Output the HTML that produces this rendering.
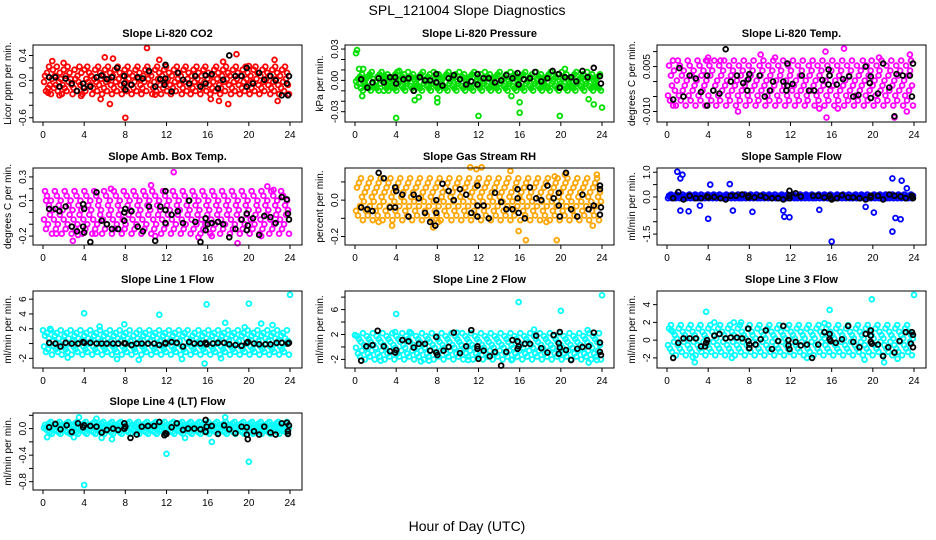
<!DOCTYPE html>
<html><head><meta charset="utf-8"><style>
body{margin:0;background:#fff;}
svg{display:block;font-family:"Liberation Sans",sans-serif;}
</style></head><body>
<svg id="chart" width="936" height="540" xmlns="http://www.w3.org/2000/svg">
<rect width="936" height="540" fill="#fff"/>
<text x="467" y="15" font-size="14" text-anchor="middle">SPL_121004  Slope Diagnostics</text>
<text x="467" y="531" font-size="14" text-anchor="middle">Hour of Day (UTC)</text>
</svg>
<script>
// ---- data ----
const xTicks = [0, 4, 8, 12, 16, 20, 24];
const titles = ["Slope Li-820 CO2","Slope Li-820 Pressure","Slope Li-820 Temp.","Slope Amb. Box Temp.","Slope Gas Stream RH","Slope Sample Flow","Slope Line 1 Flow","Slope Line 2 Flow","Slope Line 3 Flow","Slope Line 4 (LT) Flow"];
const yTitles = ["Licor ppm per min.","kPa per min.","degrees C per min.","degrees C per min.","percent per min.","ml/min per min.","ml/min per min.","ml/min per min.","ml/min per min.","ml/min per min."];
const colors = ["#ff0000","#00e000","#ff00ff","#ff00ff","#ffa500","#0000ff","#00ffff","#00ffff","#00ffff","#00ffff"];
const yTickVals = [[0.4,0.2,0,-0.2,-0.4,-0.6],[0.03,0.02,0.01,0,-0.01,-0.02,-0.03],[0.01,0.005,0,-0.005,-0.01],[0.3,0.2,0.1,0,-0.1,-0.2],[0.1,0,-0.1,-0.2],[1,0.5,0,-0.5,-1,-1.5],[6,4,2,0,-2],[8,6,4,2,0,-2],[4,2,0,-2],[0.2,0,-0.2,-0.4,-0.6,-0.8]];
const yTickLabels = [["0.4","","0.0","","","-0.6"],["0.03","","","0.00","","","-0.03"],["","0.005","","","-0.010"],["0.3","","0.1","","","-0.2"],["","0.0","","-0.2"],["1.0","","0.0","","","-1.5"],["6","4","2","","-2"],["","6","","2","","-2"],["4","2","0","-2"],["","0.0","","-0.4","","-0.8"]];
const yDomains = [[-0.62,0.52],[-0.037,0.031],[-0.0125,0.0112],[-0.25,0.35],[-0.23,0.16],[-1.82,1.05],[-2.9,6.7],[-2.9,8.5],[-2.8,5.2],[-0.88,0.19]];
const bandLo = [-0.22,-0.012,-0.008,-0.18,-0.11,-0.25,-1.5,-2.0,-1.7,-0.1];
const bandHi = [0.22,0.008,0.007,0.18,0.12,0.2,1.8,2.2,1.7,0.1];
const bands = [
"4617293058263914750382619475302851649370281594736025841937506284195730628419573062841957306248195730264819573602481957306284915730628419573602849157306284195730628491573062481957302684195736028419573062841957306248195730628419573602841957306284195730",
"5364728154637281946352718495637281546372819456372815496372815463728194563728154963728154637281945637281549637281546372819456372815496372815463728194563728154963728154637281945637281549637281546372819456372815496372815463728194563728154963728154637281",
"2816497305928163740592816374059281637405928617394052816379405281637940528163794052816379405218637940528163794052816739405281673940528163794052186379405281637940528163794052816379405281637940528163749052816379405281673940528163794052816379405281637940",
"3918264705391826470539182647053918264750391826475039182674503918264750391826475039128647503918264750391826475093182647503918264750391826475039182647503918624750391826475039182647503918264750391826475039182647503918246750391826475039182647503918264750",
"2718395046271839504627183950462718395064271839506427183950642718395064271839506427183905642718395064271839506427183950642718395064271839506427183950642718395064217839506427183950642718395064271839506427183950642718395064271839506427183950642718395064",
"4657465647564657456465746564756465745646574656475646574564657465647564657456465746564756465745646574656475646574564657465647564657456465746564756465745646574656475646574564657465647564657456465746564756465745646574656475646574564657465647564657456465746",
"3718264905372816490537281649053728164950372816495037281649503728164950372816495037281649503721864950372816495037281649503728164950372816495037281694503728164950372816495037281649503728164950372816495037281649503728164950372816495037281649503728164950",
"4827163950482716395048271639504827163950482716395048271693504827163950482716395048271639504827163950482716359048271639504827163950482716395048271639504827163950482716395048271639504827163950482716395048271639504827163950482716395048271639504827163950",
"3829174605382917460538291746053829174605382917460538291746053829174605382917460538291764053829174605382917460538291746053829174605382917460538291746053829174605382917460538291746053829174605382917460538291746053829174605382917460538291746053829174605",
"5746382915746382915746382951746382915746382915746382915746382915746382915746382915746382915746382915746382915746382915746382915746382915746382915746382915746382915746382915746382915746382915746382915746382915746382915746382915746382915746382915746382915"];
const outliers = [
[[10.1,0.52],[8,-0.6],[6.5,-0.38],[18.8,0.42],[6,0.37],[6.8,0.35],[11.3,0.33],[0.9,0.31],[22.5,0.33],[17.5,0.3],[22.8,-0.33],[17.1,-0.33],[18,-0.38],[16.3,-0.3],[5.6,-0.3],[3.7,-0.25],[10.9,-0.23],[20,0.23],[0.5,-0.2],[1.6,-0.24],[2,0.28]],
[[0.2,0.029],[0.1,0.026],[4,-0.036],[12,-0.034],[16,-0.031],[19.9,-0.034],[24,-0.026],[16,-0.021],[8,-0.017],[8,-0.021],[0.4,0.011],[0.8,0.011],[5.8,-0.019],[6.2,-0.016],[20.4,0.011],[23.2,-0.023],[22.7,-0.018],[0.7,-0.015],[15.2,-0.015],[2.8,-0.010],[4.3,0.009]],
[[17.2,0.011],[15.4,0.01],[22.1,-0.012],[15.5,-0.012],[6.9,-0.01],[23.3,-0.01],[9.1,0.009],[23.6,0.009],[16.6,-0.009],[14.8,-0.009],[0.6,-0.008],[5.2,0.007],[4,0.008],[20.6,0.008],[10.5,0.008],[3.8,0.007]],
[[12.7,0.34],[18.9,-0.26],[2.9,-0.24],[15.1,-0.21],[10.9,-0.2],[1.3,-0.18],[3.4,-0.19],[21.8,0.22],[10.5,0.23],[16.4,-0.2],[21.2,-0.2],[0.3,0.1],[6.6,0.2],[22.4,0.19],[5.1,-0.18]],
[[11.2,0.18],[12.3,0.18],[15.1,0.16],[11.8,0.17],[16.6,-0.22],[19.6,-0.22],[15.9,-0.17],[7.6,-0.15],[3.6,-0.14],[23.1,-0.14],[8.1,-0.12],[2.3,-0.12],[18.6,-0.12],[23.5,0.14],[20.4,0.14],[19.4,0.13]],
[[1,1.02],[1.5,0.9],[1.3,0.75],[6.1,0.52],[4.2,0.5],[21.9,0.75],[22.8,0.66],[23.3,0.35],[4,-0.88],[21.9,-1.4],[16,-1.8],[22.7,-0.9],[22.2,-0.85],[11.9,-0.82],[11.4,-0.8],[2.1,-0.58],[1.3,-0.55],[8.3,-0.6],[20.1,-0.63],[19.3,-0.4],[6.4,-0.55],[11.3,-0.55],[14.8,-0.52],[3.2,-0.35]],
[[24,6.6],[15.9,5.3],[20,5.4],[4,4.1],[11.3,3.9],[17.7,2.8],[21.2,2.7],[7.9,2.6],[22.3,2.5],[15.7,-2.7],[9.3,-2.2],[13.5,-2.1],[7.2,-2.1],[2.4,-1.9],[17.3,-2],[0,1.8],[0.7,2],[5.5,2.3],[19.6,2.2]],
[[24,8.3],[15.9,7.2],[20,5.8],[4,5.3],[22.7,-2.5],[6.4,-2.3],[2.5,-2.2],[7.2,-2.2],[11,-2.1],[15.2,-2.1],[23.5,-2.1],[17.4,2.8],[22.6,2.7],[9.9,2.3],[5.3,2.4],[3.9,2.4],[0,1.9]],
[[24,5.1],[19.9,4.6],[3.8,3.2],[15.8,3.4],[2.7,-2.5],[21.1,-2.5],[6.3,-2],[19.2,-2.2],[13.6,-2],[0.4,1.1],[6.5,2],[7.2,2],[4.6,2],[15.3,1.9],[2.5,-1.9],[22.4,-2.1]],
[[4,-0.85],[12,-0.38],[20,-0.5],[16.4,-0.2],[3.5,0.17],[17.7,0.17],[5.2,0.15],[0.4,-0.13],[3,-0.13],[5.7,-0.14],[6.7,-0.16],[13.8,-0.14]]];
const blacks = [
[[0.6,0.05],[1.2,0.05],[1.6,-0.1],[2.2,0.03],[2.8,-0.05],[3.3,-0.17],[3.9,-0.05],[4,-0.12],[4.6,-0.1],[5.2,0.05],[5.7,0.08],[6.2,0.02],[6.7,0.05],[7.2,0.2],[7.9,0.07],[7.9,-0.05],[8,-0.15],[8.6,-0.07],[9.2,0.05],[9.7,0.03],[10.3,0.15],[10.9,-0.1],[11.4,0.02],[11.9,0.25],[11.8,-0.07],[11.9,0.03],[12.5,-0.18],[13.1,0.12],[13.6,0.01],[14.2,-0.05],[14.8,0.07],[15.3,-0.1],[15.8,0.08],[15.8,-0.05],[16.4,0.1],[17,-0.13],[17.5,0.01],[18.1,0.4],[18.7,0.07],[19.3,0.07],[19.8,0.2],[19.8,-0.1],[20.4,-0.05],[21,0.12],[21.5,0.01],[22.1,0.07],[22.6,0],[23.2,-0.24],[23.7,-0.05],[23.8,-0.24],[23.9,0.07]],
[[0.6,0.001],[1.2,-0.007],[1.7,-0.002],[2.3,0.002],[2.8,-0.002],[3.4,0.003],[3.9,0.003],[4,-0.003],[4.7,0.001],[5.2,0.002],[5.7,-0.01],[6.3,0.003],[6.8,0],[7.3,0],[7.9,0.006],[7.9,-0.002],[8.5,-0.005],[9.1,0.002],[9.6,0.005],[10.2,0.001],[10.8,-0.004],[11.3,-0.001],[11.9,0.006],[11.9,-0.004],[12.5,0.002],[13,0.002],[13.6,-0.002],[14.2,0],[14.7,0.005],[15.3,0.002],[15.8,0.007],[15.9,-0.004],[16.4,0.001],[17,0.002],[17.5,0.008],[18.1,-0.001],[18.7,0.002],[19.2,0.009],[19.8,0.006],[19.9,-0.007],[20.4,0.003],[21,0.003],[21.5,-0.001],[22.1,0.009],[22.6,0.003],[23.2,0.012],[23.8,0.004],[23.9,-0.003]],
[[5.7,0.0108],[1.2,0.0045],[0.6,-0.006],[3.9,-0.008],[22.1,-0.0116],[11.7,0.006],[21,0.006],[23.9,0.006],[19.3,0.005],[15.7,0.004],[15.8,0.002],[8,0.0025],[2.2,0.002],[2.8,0.001],[3.9,0.002],[7.9,0.0008],[6.2,0],[6.8,0.002],[9,0.002],[10.3,0],[11.3,0],[12.2,-0.0008],[11.7,-0.0014],[13.1,0.002],[13.8,-0.003],[14.3,-0.003],[15.1,0.0005],[15.7,-0.001],[16.5,-0.001],[17.1,0.0008],[17.7,0.0017],[18.1,-0.005],[18.6,-0.0045],[19.8,0.0017],[19.7,-0.0005],[19.8,-0.0055],[20.5,-0.004],[21.6,-0.002],[22.3,0.0025],[22.9,0.002],[23.6,0.002],[23.8,-0.005],[1.6,-0.005],[3.3,-0.0035],[4.5,-0.003],[5.1,-0.004],[7.4,-0.0005],[7.8,-0.003],[9.5,-0.005],[10,-0.003],[11.6,-0.003]],
[[0.6,0.03],[1.2,0.03],[1.6,0.01],[2.2,0.05],[2.8,-0.12],[3.3,-0.16],[3.9,0.07],[3.9,-0.12],[4,0.03],[4,-0.17],[4.6,-0.25],[5.2,0.17],[5.7,-0.07],[6.2,-0.1],[6.7,-0.14],[7.3,-0.14],[7.9,0],[7.9,-0.07],[8,0.03],[8.6,0.01],[9.2,-0.12],[9.7,-0.16],[10.3,0.05],[10.9,-0.24],[11.4,0.05],[11.9,0.18],[11.9,-0.09],[11.9,0.02],[12.5,-0.02],[13.1,0.01],[13.6,-0.09],[14.2,0.1],[14.8,-0.08],[15.3,-0.25],[15.8,-0.05],[15.8,-0.15],[16,-0.1],[16.4,-0.09],[17,-0.08],[17.5,-0.1],[18.1,-0.21],[18.7,-0.14],[19.3,-0.06],[19.8,-0.01],[19.8,-0.15],[19.9,-0.11],[20.4,-0.05],[21,-0.19],[21.5,-0.03],[22.1,-0.04],[22.6,-0.09],[23.2,0.13],[23.7,0.11],[23.8,-0.01],[23.9,-0.06]],
[[0.6,-0.04],[1.2,-0.05],[1.7,-0.06],[2.3,0.15],[2.8,0.12],[3.4,-0.04],[3.9,-0.04],[3.9,0.07],[4,0.05],[4.6,0.03],[5.2,-0.09],[5.7,0.03],[6.2,0.01],[6.8,-0.07],[7.3,-0.12],[7.9,0],[7.9,-0.07],[7.8,-0.14],[8.5,0.09],[9.1,0.05],[9.6,0],[10.2,0.06],[10.8,0.03],[11.3,-0.07],[11.9,0.08],[11.9,-0.03],[11.9,-0.09],[12.5,-0.03],[13,-0.1],[13.6,0.04],[14.2,-0.01],[14.7,-0.05],[15.3,-0.05],[15.8,0.06],[15.8,0.01],[15.9,-0.07],[16.5,-0.1],[17,0.07],[17.6,0.01],[18.1,0],[18.7,0.08],[19.3,0.01],[19.8,0.04],[19.8,-0.03],[19.9,-0.09],[20.5,0.15],[21,-0.05],[21.6,-0.09],[22.1,0.03],[22.7,-0.05],[23.2,-0.03],[23.8,0.08],[23.8,0.06],[23.9,-0.04],[23.8,-0.08]],
[[0.6,-0.05],[1.1,0.2],[1.6,-0.1],[2.2,0.05],[2.8,-0.05],[3.3,-0.05],[3.9,0.02],[4,-0.02],[4.6,0],[5.2,-0.05],[5.7,-0.1],[6.2,0.05],[6.7,0.05],[7.3,0.1],[7.9,0.05],[7.9,-0.02],[8.5,-0.02],[9.1,0.05],[9.6,-0.02],[10.2,-0.05],[10.8,-0.05],[11.3,-0.1],[11.9,0.05],[11.9,-0.05],[11.9,0.25],[12.5,0.15],[13,0.02],[14.2,0.05],[14.7,0.05],[15.3,-0.02],[15.8,0.05],[15.9,-0.05],[16,-0.1],[16.5,-0.05],[17,0.07],[17.6,-0.02],[18.1,-0.02],[18.7,-0.05],[19.3,-0.1],[19.8,0.05],[19.8,-0.02],[20.5,0.05],[21,-0.1],[21.6,0.1],[22.1,0.05],[22.7,0.02],[23.2,-0.05],[23.8,0.02],[23.8,0.05],[23.9,-0.05]],
[[0.6,0.1],[1.2,0],[1.7,-0.4],[2.2,0.1],[2.8,0],[3.4,0],[3.9,0.2],[4,0.1],[4.6,0.1],[5.2,0],[5.7,0],[6.2,0],[6.8,0],[7.3,0],[7.9,0.05],[8,0],[8.6,-0.2],[9.1,0],[9.6,0],[10.2,0],[10.8,0],[11.3,-0.2],[11.9,0],[11.9,0.1],[12.5,0.2],[13,0.1],[13.6,-0.4],[14.2,0.2],[14.7,0],[15.3,0],[15.8,0.1],[15.9,-0.1],[16.5,0],[17,0.1],[17.6,0.1],[18.1,-0.1],[18.7,-0.2],[19.3,-0.3],[19.8,0.1],[19.9,0.2],[20.5,0],[21,-0.1],[21.6,-0.1],[22.1,-0.1],[22.7,0.1],[23.2,0.1],[23.8,0],[23.9,0.1]],
[[0.6,-2.2],[1.1,0.1],[1.7,0.3],[2.2,2.6],[2.8,0.1],[3.4,-0.7],[3.9,-0.9],[4,-0.5],[4.6,1.1],[5.2,0.9],[5.7,-0.1],[6.2,0.5],[6.8,0.5],[7.3,-0.6],[7.9,1.6],[7.9,-0.9],[8,-1.3],[8.6,-0.6],[9.1,0],[9.6,2.3],[10.2,-1],[10.8,0.1],[11.3,2.7],[11.9,0.1],[11.9,-0.3],[12,-1.9],[12.5,-0.6],[13.1,-1.5],[13.6,-0.8],[14.2,-3],[14.7,-0.8],[15.3,1.1],[15.8,0.9],[15.8,-0.3],[15.9,0.1],[16.5,0.5],[17,0.5],[17.6,1.8],[18.1,-0.2],[18.7,-0.9],[19.3,1.9],[19.8,0.6],[19.8,-1.1],[19.9,2.4],[19.9,-0.1],[20.5,-0.5],[21,-2.1],[21.6,-0.3],[22.1,0],[22.7,0.1],[23.2,2.3],[23.8,0.7],[23.8,-0.8],[23.9,-1.3]],
[[0.6,-2],[1.1,-0.3],[1.6,0.2],[2.2,0.2],[2.8,0.2],[3.3,-0.7],[3.7,-0.7],[3.8,-0.3],[3.9,0],[4.6,0.5],[5.1,0.7],[5.7,0.2],[6.2,0.3],[6.8,0.3],[7.3,0.2],[7.9,1.3],[7.9,-0.1],[8,-0.9],[8,-0.5],[8.6,-0.5],[9.1,0.1],[9.6,1.1],[10.2,-1],[10.8,-0.1],[11.3,1.6],[11.8,0],[11.8,-0.6],[11.9,-1],[12.5,-0.2],[13,-0.6],[13.6,-0.5],[14.1,-2],[14.7,-0.5],[15.3,0.9],[15.8,0.7],[15.8,0.1],[15.9,-0.1],[16.4,-0.3],[17,0.1],[17.6,1.6],[18.1,-0.2],[18.7,-0.8],[19.3,0.7],[19.8,1.1],[19.8,0.5],[19.8,-0.2],[19.9,-0.4],[20.5,-0.5],[21,-1.8],[21.5,-0.8],[22.1,-1.4],[22.6,-0.1],[23.2,0.9],[23.7,-0.4],[23.8,0.9],[23.9,-0.8],[23.9,0.6]],
[[0.6,0.02],[1.2,0.07],[1.7,-0.01],[2.3,0.05],[2.8,-0.05],[3.4,0.08],[3.9,0.02],[4,0.05],[4.6,0.04],[5.2,0.03],[5.7,-0.06],[6.2,-0.02],[6.8,0],[7.3,-0.02],[7.9,0],[7.9,0.08],[8,0.03],[8.5,-0.14],[9.1,-0.09],[9.6,0.03],[10.2,0.04],[10.8,0.04],[11.3,0.1],[11.8,-0.1],[11.9,-0.07],[12,-0.08],[12.5,0.02],[13,0.08],[13.6,-0.02],[14.1,0],[14.7,0],[15.3,-0.01],[15.8,0.13],[15.8,-0.05],[15.9,0.03],[16.4,0.04],[17,-0.08],[17.6,0.05],[18.1,-0.01],[18.7,-0.07],[19.3,0.03],[19.8,0.02],[19.8,-0.09],[19.9,-0.16],[20.5,-0.04],[21,-0.09],[21.5,0.03],[22.1,-0.06],[22.6,-0.09],[23.2,0.08],[23.7,0.09],[23.8,-0.04],[23.8,-0.08],[23.9,0.05]]];
// ---- drawing ----
const NS = "http://www.w3.org/2000/svg";
const svg = document.getElementById("chart");
const rowTops = [45, 168, 291, 413];
const boxH = 77;
function mk(tag, attrs, parent) {
  const e = document.createElementNS(NS, tag);
  for (const k in attrs) e.setAttribute(k, attrs[k]);
  parent.appendChild(e);
  return e;
}
for (let p = 0; p < 10; p++) {
  const col = p % 3, row = Math.floor(p / 3);
  const cx0 = col * 312;
  const left = cx0 + 33, right = cx0 + 302, top = rowTops[row], bottom = top + boxH;
  const xs = h => cx0 + 43 + h * (247 / 24);
  const [d0, d1] = yDomains[p];
  const ys = v => bottom - 3 - (v - d0) / (d1 - d0) * (boxH - 6);
  const g = mk("g", {}, svg);
  
  
  const t = mk("text", {x: (left + right) / 2, y: top - 8, "font-size": 11, "font-weight": "bold", "text-anchor": "middle"}, g);
  t.textContent = titles[p];
  
  
  const yt = mk("text", {transform: `translate(${cx0 + 11},${(top + bottom) / 2}) rotate(-90)`, "font-size": 10, "text-anchor": "middle"}, g);
  yt.textContent = yTitles[p];
  
  
  const ptsG = mk("g", {fill: "none", stroke: colors[p], "stroke-width": 1.8}, g);
  
  
  const s = bands[p], n = s.length;
  for (let i = 0; i < n; i++) {
    const v = bandLo[p] + (+s[i]) / 9 * (bandHi[p] - bandLo[p]);
    const c = mk("circle", {cx: xs(0.1 + i * 23.8 / (n - 1)), cy: ys(v), r: 2.4}, ptsG);
    
    
  }
  for (const [h, v] of outliers[p]) {
    const c = mk("circle", {cx: xs(h), cy: ys(v), r: 2.4}, ptsG);
    
    
  }
  const bG = mk("g", {fill: "none", stroke: "#000", "stroke-width": 1.8}, g);
  
  
  for (const [h, v] of blacks[p]) {
    const c = mk("circle", {cx: xs(h), cy: ys(v), r: 2.4}, bG);
    
    
  }
  const b = mk("rect", {x: left, y: top, width: right - left, height: boxH, fill: "none", stroke: "#000", "stroke-width": 1}, g);
  
  
  const xa = mk("g", {stroke: "#000", "stroke-width": 1}, g);
  
  
  mk("line", {x1: xs(xTicks[0]), x2: xs(xTicks[xTicks.length - 1]), y1: bottom, y2: bottom}, xa);
  for (const tv of xTicks) {
    mk("line", {x1: xs(tv), x2: xs(tv), y1: bottom, y2: bottom + 4}, xa);
    const tl = mk("text", {x: xs(tv), y: bottom + 16, "font-size": 10, "text-anchor": "middle", stroke: "none"}, xa);
    tl.textContent = tv;
    
    
  }
  const ya = mk("g", {stroke: "#000", "stroke-width": 1}, g);
  
  
  const tv = yTickVals[p];
  mk("line", {x1: left, x2: left, y1: ys(tv[0]), y2: ys(tv[tv.length - 1])}, ya);
  tv.forEach((v, i) => {
    mk("line", {x1: left - 4, x2: left, y1: ys(v), y2: ys(v)}, ya);
    const lab = yTickLabels[p][i];
    if (lab) {
      const tl = mk("text", {transform: `translate(${left - 7},${ys(v)}) rotate(-90)`, "font-size": 10, "text-anchor": "middle", stroke: "none"}, ya);
      tl.textContent = lab;
      
      
    }
  });
}
</script>
</body></html>
